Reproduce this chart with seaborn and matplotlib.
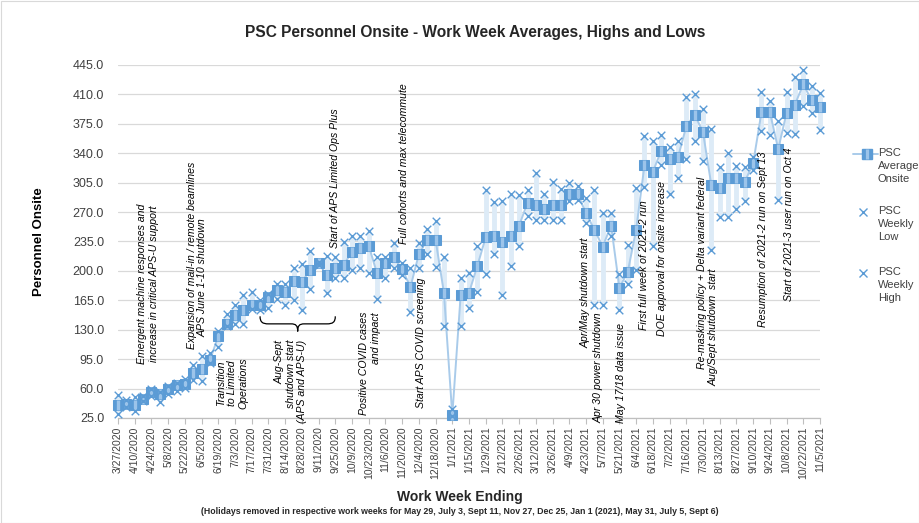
import numpy as np
import pandas as pd
import matplotlib
matplotlib.use("Agg")
import matplotlib.pyplot as plt
import seaborn as sns
from matplotlib.path import Path
from matplotlib.patches import PathPatch, Rectangle
from matplotlib.lines import Line2D

# ---------------- data ----------------
avg_onsite = [40, 42, 40, 48, 56, 53, 60, 64, 66, 79, 83, 94, 122,
              137, 147, 153, 160, 160, 169, 177, 175, 188, 187, 201, 209, 195, 203, 207,
              223, 227, 230, 197, 210, 216, 202, 181, 220, 237, 237, 174, 28, 171, 174,
              206, 240, 241, 234, 241, 254, 281, 279, 274, 279, 278, 292, 291, 269,
              249, 229, 254, 180, 199, 249, 326, 318, 343, 333, 335, 372, 386, 365,
              302, 299, 310, 311, 306, 328, 389, 389, 345, 388, 398, 422, 403, 395]
weekly_high = [52, 46, 50, 51, 59, 56, 63, 67, 71, 88, 99, 102, 129,
               149, 160, 171, 175, 165, 173, 185, 185, 203, 208, 224, 211, 218, 216, 234,
               242, 242, 247, 216, 216, 233, 210, 204, 233, 250, 259, 217, 36, 192, 197,
               230, 296, 282, 283, 292, 290, 296, 317, 291, 306, 298, 305, 301, 287,
               296, 269, 269, 196, 231, 299, 360, 355, 362, 347, 355, 407, 410, 393,
               369, 324, 340, 325, 324, 335, 413, 402, 378, 413, 431, 439, 420, 412]
weekly_low = [30, 38, 33, 45, 51, 44, 53, 57, 61, 70, 69, 90, 110,
              135, 137, 137, 155, 153, 156, 167, 159, 165, 153, 179, 207, 174, 192, 192,
              201, 204, 197, 167, 192, 204, 195, 151, 204, 220, 205, 135, 27, 135, 156,
              175, 196, 220, 171, 206, 230, 265, 261, 261, 261, 261, 283, 284, 257,
              159, 159, 242, 154, 185, 201, 300, 230, 326, 291, 311, 333, 355, 331,
              225, 264, 264, 274, 283, 320, 366, 362, 284, 364, 363, 396, 388, 368]
tick_labels = ["3/27/2020", "4/10/2020", "4/24/2020", "5/8/2020", "5/22/2020", "6/5/2020",
               "6/19/2020", "7/3/2020", "7/17/2020", "7/31/2020", "8/14/2020", "8/28/2020",
               "9/11/2020", "9/25/2020", "10/9/2020", "10/23/2020", "11/6/2020", "11/20/2020",
               "12/4/2020", "12/18/2020", "1/1/2021", "1/15/2021", "1/29/2021", "2/12/2021",
               "2/26/2021", "3/12/2021", "3/26/2021", "4/9/2021", "4/23/2021", "5/7/2021",
               "5/21/2021", "6/4/2021", "6/18/2021", "7/2/2021", "7/16/2021", "7/30/2021",
               "8/13/2021", "8/27/2021", "9/10/2021", "9/24/2021", "10/8/2021", "10/22/2021",
               "11/5/2021"]
y_ticks = [25, 60, 95, 130, 165, 200, 235, 270, 305, 340, 375, 410, 445]

week = np.arange(len(avg_onsite))
df = pd.DataFrame({"week": week, "avg": avg_onsite, "high": weekly_high, "low": weekly_low})

# ---------------- style ----------------
sns.set_theme(style="white")
plt.rcParams["font.family"] = ["Liberation Sans", "DejaVu Sans"]

W, H = 920, 523
fig = plt.figure(figsize=(W / 100, H / 100), dpi=100)
L, R, T, B = 118, 820, 65, 418
ax = fig.add_axes([L / W, 1 - B / H, (R - L) / W, (B - T) / H])

c_dark = "#5B9BD5"
c_line = "#A9CBEA"
c_hl = "#DDEBF7"

ax.vlines(df["week"], df["low"], df["high"], color=c_hl, lw=3.5, zorder=1, clip_on=False)
sns.lineplot(data=df, x="week", y="avg", ax=ax, color=c_line, lw=1.4, marker="s",
             markersize=7.8, markerfacecolor=c_dark, markeredgecolor=c_dark,
             zorder=3, clip_on=False)
sns.scatterplot(data=df, x="week", y="avg", ax=ax, marker="|", color="#9CC4EA",
                s=48, linewidth=2.4, zorder=4, clip_on=False)
sns.scatterplot(data=df, x="week", y="low", ax=ax, marker="x", color=c_dark,
                s=30, linewidth=1.0, zorder=5, clip_on=False)
sns.scatterplot(data=df, x="week", y="high", ax=ax, marker="x", color=c_dark,
                s=30, linewidth=1.0, zorder=5, clip_on=False)

ax.set_xlim(0, len(week) - 1)
ax.set_ylim(25, 445)
ax.set_yticks(y_ticks)
ax.set_yticklabels([f"{v:.1f}" for v in y_ticks], fontsize=9, color="#404040")
ax.set_xticks(week[::2])
ax.set_xticklabels(tick_labels, rotation=90, fontsize=7.5, color="#404040")
ax.tick_params(axis="x", length=4, width=0.8, color="#BFBFBF", pad=2, bottom=True)
ax.tick_params(axis="y", length=0, pad=10)
ax.grid(axis="y", color="#D9D9D9", lw=0.9)
ax.set_axisbelow(True)
for s in ["top", "right", "left"]:
    ax.spines[s].set_visible(False)
ax.spines["bottom"].set_color("#BFBFBF")
ax.spines["bottom"].set_linewidth(0.9)
ax.set_xlabel("")
ax.set_ylabel("Personnel Onsite", fontsize=9.5, fontweight="bold", color="black")
ax.yaxis.set_label_coords((45 - L) / (R - L), 0.5)

# ---------------- texts ----------------
def ft(px, py, s, **kw):
    fig.text(px / W, 1 - py / H, s, **kw)

ft(475, 33, "PSC Personnel Onsite - Work Week Averages, Highs and Lows",
   ha="center", va="center", fontsize=11.2, fontweight="bold")
ft(460, 497, "Work Week Ending", ha="center", va="center", fontsize=10, fontweight="bold")
ft(460, 512, "(Holidays removed in respective work weeks for May 29, July 3, Sept 11, Nov 27, "
   "Dec 25, Jan 1 (2021), May 31, July 5, Sept 6)",
   ha="center", va="center", fontsize=6.3, fontweight="bold")

ann = dict(rotation=90, style="italic", fontsize=7.6, color="black", ha="center", va="center")
ft(148, 284, "Emergent machine responses and\nincrease in critical APS-U support", ma="center", linespacing=1.15, **ann)
ft(192, 255, "Expansion of mail-in / remote beamlines", **ann)
ft(203, 278, "APS June 1-10 shutdown", **ann)
ft(232, 383, "Transition\nto Limited\nOperations", ma="center", linespacing=1.15, **ann)
ann_top = dict(ann, va="top")
ft(291, 340, "Aug-Sept\nshutdown start\n(APS and APS-U)", ma="right", linespacing=1.15, **ann_top)
ft(335, 178, "Start of APS Limited Ops Plus", **ann)
ft(370, 312, "Positive COVID cases\nand impact", ma="right", linespacing=1.15, **ann_top)
ft(404, 164, "Full cohorts and max telecommute", **ann)
ft(421, 343, "Start APS COVID screening", **ann)
ft(586, 293, "Apr/May shutdown start", **ann)
ft(599, 368, "Apr 30 power shutdown", **ann)
ft(621, 373, "May 17/18 data issue", **ann)
ft(644, 265, "First full week of 2021-2 run", **ann)
ft(662, 259, "DOE approval for onsite increase", **ann)
ft(702, 273, "Re-masking policy + Delta variant federal", **ann)
ft(714, 327, "Aug/Sept shutdown  start", **ann)
ft(763, 239, "Resumption of 2021-2 run on Sept 13", **ann)
ft(789, 224, "Start of 2021-3 user run on Oct 4", **ann)

# brace under Aug-Sept points
x0, x1 = 17.0, 26.0
xm = (x0 + x1) / 2
yt, ym, yb = 146, 137, 128
verts = [(x0, yt), (x0, ym + 2), (x0 + 0.3, ym), (x0 + 1.0, ym),
         (xm - 0.8, ym),
         (xm - 0.2, ym), (xm, ym - 2), (xm, yb),
         (xm, ym - 2), (xm + 0.2, ym), (xm + 0.8, ym),
         (x1 - 1.0, ym),
         (x1 - 0.3, ym), (x1, ym + 2), (x1, yt)]
codes = [Path.MOVETO, Path.CURVE4, Path.CURVE4, Path.CURVE4,
         Path.LINETO,
         Path.CURVE4, Path.CURVE4, Path.CURVE4,
         Path.CURVE4, Path.CURVE4, Path.CURVE4,
         Path.LINETO,
         Path.CURVE4, Path.CURVE4, Path.CURVE4]
ax.add_patch(PathPatch(Path(verts, codes), fill=False, lw=0.9, color="black", zorder=6, clip_on=False))

# ---------------- legend (manual) ----------------
def fx(px):
    return px / W
def fy(py):
    return 1 - py / H

fig.add_artist(Line2D([fx(853), fx(878)], [fy(154), fy(154)], color=c_line, lw=1.4))
fig.add_artist(Line2D([fx(867)], [fy(154)], marker="s", markersize=7.5, color=c_dark, lw=0))
fig.add_artist(Line2D([fx(867)], [fy(154)], marker="|", markersize=6.5, mew=2.3, color="#9CC4EA", lw=0))
fig.add_artist(Line2D([fx(863)], [fy(212)], marker="x", markersize=5.3, mew=1.0, color=c_dark, lw=0))
fig.add_artist(Line2D([fx(863)], [fy(273)], marker="x", markersize=5.3, mew=1.0, color=c_dark, lw=0))
leg_kw = dict(ha="left", va="top", fontsize=8, linespacing=1.35, color="#404040")
ft(878, 148, "PSC\nAverage\nOnsite", **leg_kw)
ft(878, 206, "PSC\nWeekly\nLow", **leg_kw)
ft(878, 267, "PSC\nWeekly\nHigh", **leg_kw)

fig.add_artist(Rectangle((0.5 / W, 0.5 / H), 1 - 1.5 / W, 1 - 1.5 / H, transform=fig.transFigure,
                         fill=False, edgecolor="#D9D9D9", lw=0.8))

fig.savefig("out.png", dpi=100)
